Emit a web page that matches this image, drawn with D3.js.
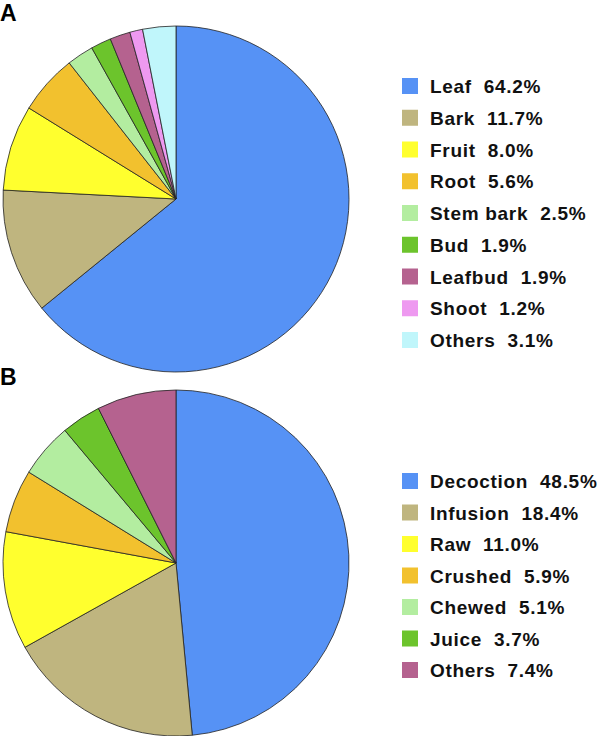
<!DOCTYPE html>
<html><head><meta charset="utf-8">
<script src="https://cdn.jsdelivr.net/npm/d3@7"></script>
<style>body{margin:0;background:#fff}svg{display:block}text{font-family:Arial,"Liberation Sans",sans-serif}</style>
</head><body><svg id="c" width="603" height="736"></svg>
<script>
const catsA = ["Leaf","Bark","Fruit","Root","Stem bark","Bud","Leafbud","Shoot","Others"];
const valsA = [64.2,11.7,8.0,5.6,2.5,1.9,1.9,1.2,3.1];
const colsA = ["#5692f5","#bfb57f","#ffff2e","#f2c12e","#b3eda0","#6cc42c","#b5628f","#ee99f0","#c0f6fb"];
const catsB = ["Decoction","Infusion","Raw","Crushed","Chewed","Juice","Others"];
const valsB = [48.5,18.4,11.0,5.9,5.1,3.7,7.4];
const colsB = ["#5692f5","#bfb57f","#ffff2e","#f2c12e","#b3eda0","#6cc42c","#b5628f"];

const svg = d3.select("#c");
function panel(label, cats, vals, cols, cy, ly0, ly1){
  svg.append("text").attr("x",0).attr("y",cy-178).attr("font-size",23).attr("font-weight","bold").text(label);
  const pie = d3.pie().sort(null).value(d=>d)(vals);
  const arc = d3.arc().innerRadius(0).outerRadius(173);
  const g = svg.append("g").attr("transform",`translate(176,${cy})`);
  g.selectAll("path").data(pie).join("path").attr("d",arc)
    .attr("fill",(d,i)=>cols[i]).attr("stroke","#222").attr("stroke-width",0.8);
  const y = d3.scalePoint().domain(cats).range([ly0,ly1]);
  const lg = svg.append("g");
  cats.forEach((c,i)=>{
    lg.append("rect").attr("x",402).attr("y",y(c)-8).attr("width",16).attr("height",16).attr("fill",cols[i]);
    lg.append("text").attr("x",430).attr("y",y(c)+7).attr("font-size",19).attr("font-weight","bold")
      .attr("letter-spacing",0.7).attr("fill","#111").text(c+"  "+vals[i].toFixed(1)+"%").style("white-space","pre");
  });
}
panel("A",catsA,valsA,colsA,199,86,340);
panel("B",catsB,valsB,colsB,563,481,670);
</script></body></html>
